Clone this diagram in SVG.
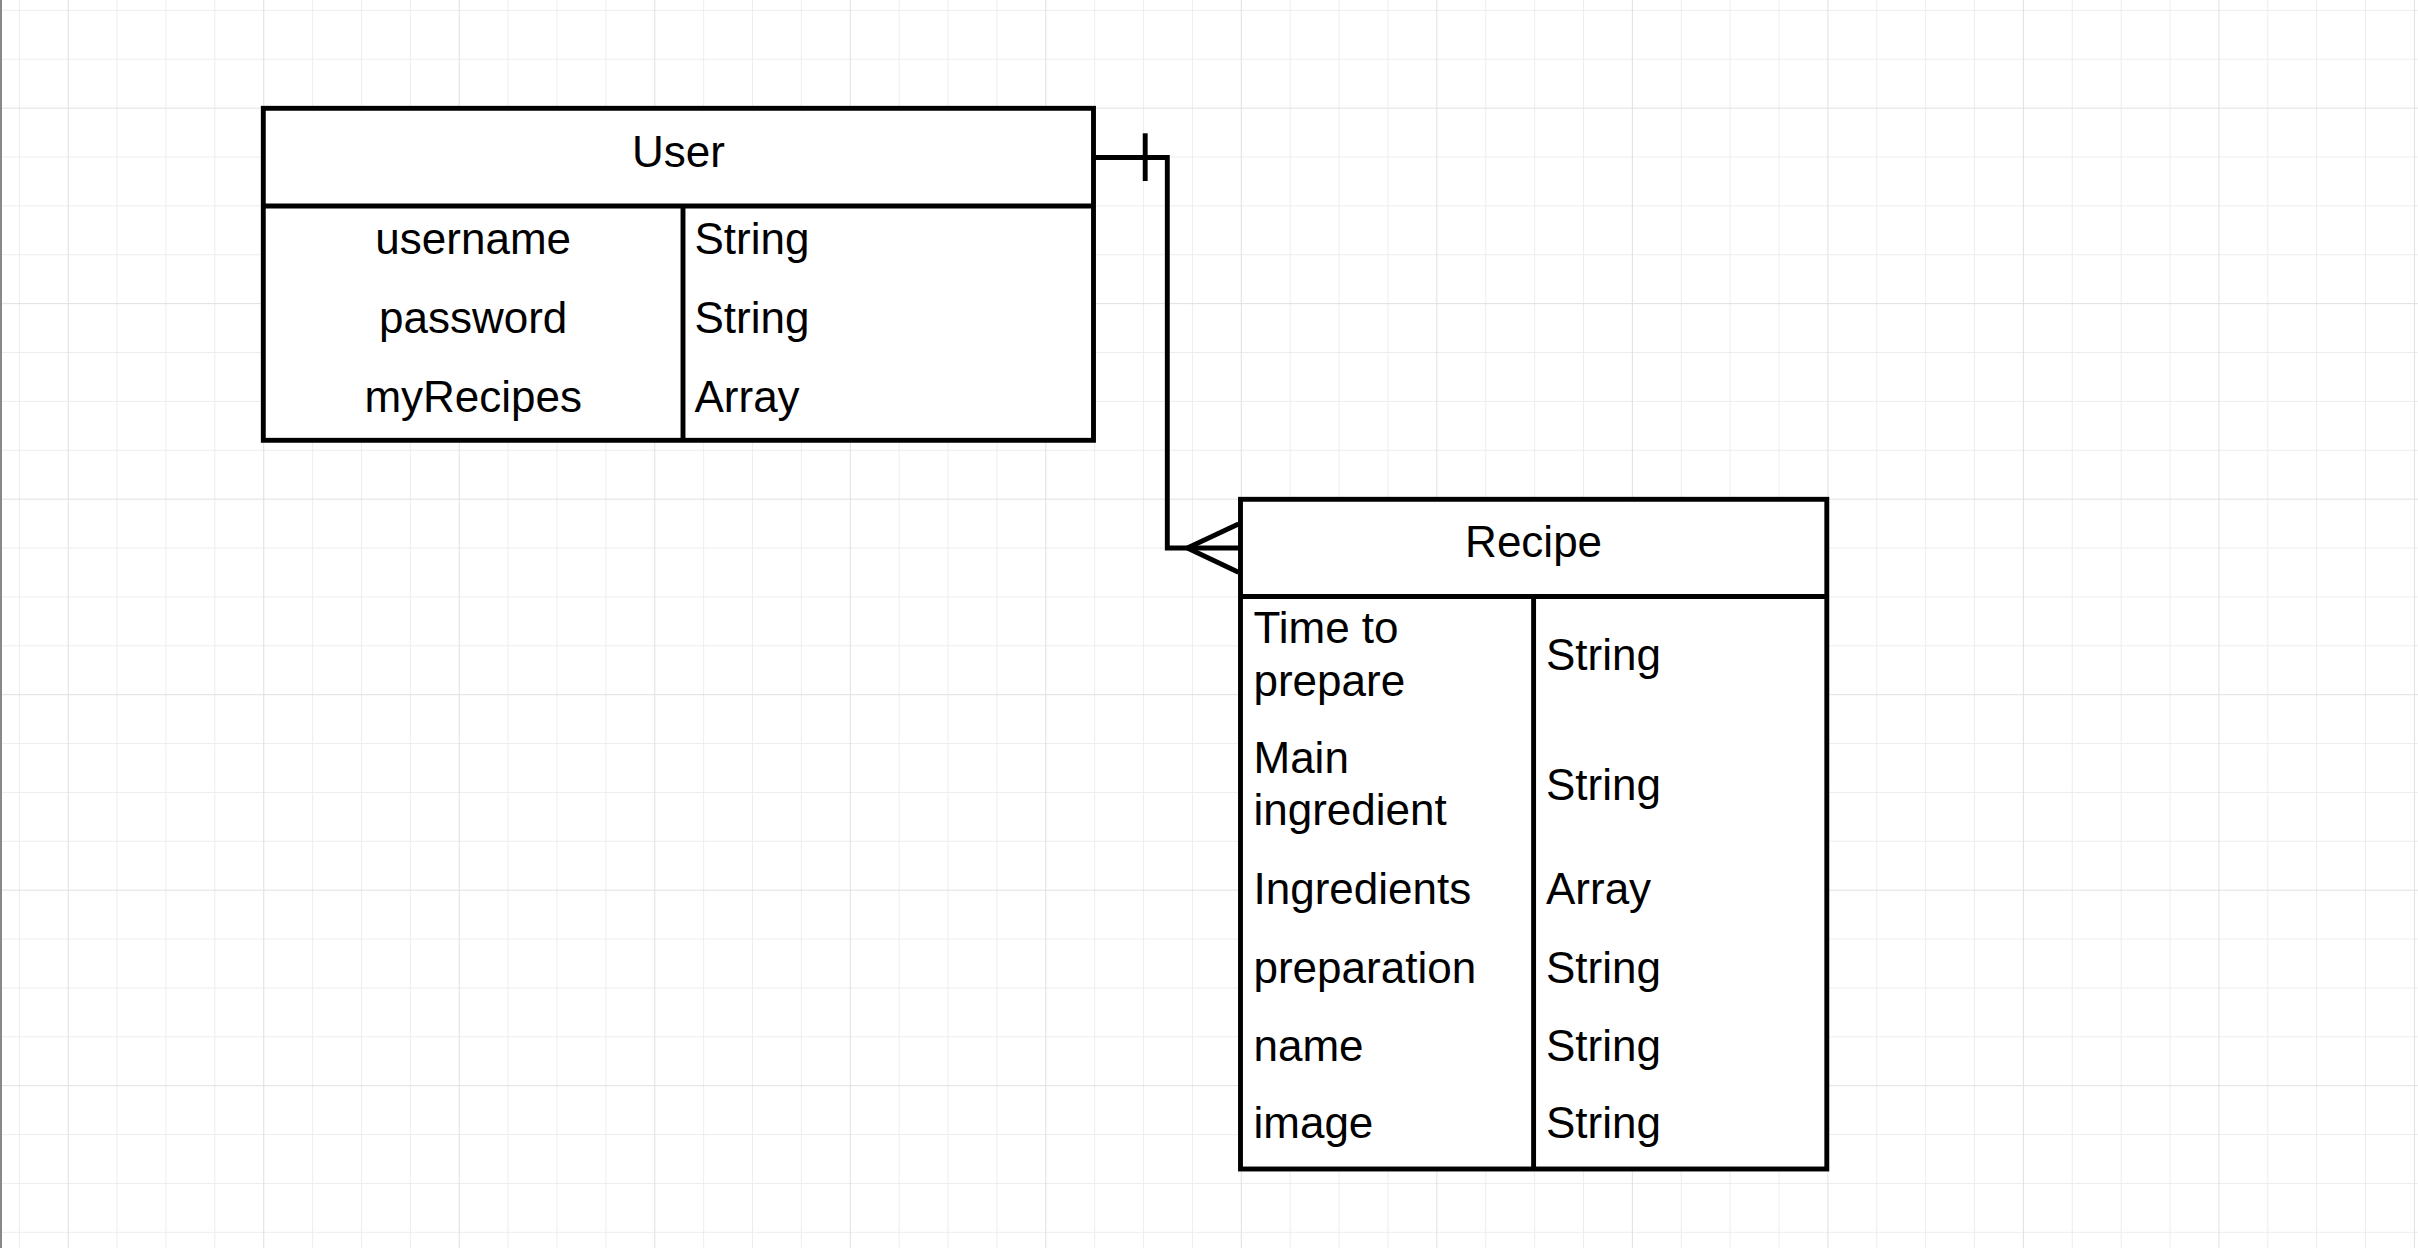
<svg xmlns="http://www.w3.org/2000/svg" width="2418" height="1248" viewBox="0 0 2418 1248">
  <style>
    .box { fill: #ffffff; stroke: #000000; stroke-width: 4.9; }
    .ln { fill: none; stroke: #000000; stroke-width: 4.9; }
    .t { font-family: "Liberation Sans", Arial, sans-serif; font-size: 44px; fill: #000000; }
    .c { text-anchor: middle; }
    .minor { fill: #ededed; }
    .major { fill: #e0e0e0; }
  </style>
  <defs>
    <pattern id="grid" patternUnits="userSpaceOnUse" x="67.7" y="107.6" width="195.52" height="195.52">
      <rect class="minor" x="48.88" y="0" width="1" height="195.52"/>
      <rect class="minor" x="97.76" y="0" width="1" height="195.52"/>
      <rect class="minor" x="146.64" y="0" width="1" height="195.52"/>
      <rect class="minor" x="0" y="48.88" width="195.52" height="1"/>
      <rect class="minor" x="0" y="97.76" width="195.52" height="1"/>
      <rect class="minor" x="0" y="146.64" width="195.52" height="1"/>
      <rect class="major" x="0" y="0" width="1" height="195.52"/>
      <rect class="major" x="0" y="0" width="195.52" height="1"/>
    </pattern>
  </defs>
  <rect x="0" y="0" width="2418" height="1248" fill="#ffffff"/>
  <rect x="0" y="0" width="2418" height="1248" fill="url(#grid)"/>
  <rect x="0" y="0" width="2" height="1248" fill="#888888"/>

  <g id="connectors">
    <path class="ln" d="M1093.5,157.5 H1167.3 V548 H1240.5"/>
    <path class="ln" d="M1145.2,133.3 V181"/>
    <path class="ln" d="M1238.5,524 L1187.3,548 L1238.5,572.3"/>
  </g>

  <g id="user">
    <rect class="box" x="263.3" y="108.3" width="830.2" height="332"/>
    <path class="ln" d="M263.3,206 H1093.5 M683,206 V440.3"/>
    <text class="t c" x="678.4" y="166.7">User</text>
    <text class="t c" x="473.2" y="254">username</text>
    <text class="t c" x="473.2" y="333.3">password</text>
    <text class="t c" x="473.2" y="411.7">myRecipes</text>
    <text class="t" x="694.5" y="254">String</text>
    <text class="t" x="694.5" y="333.3">String</text>
    <text class="t" x="694.5" y="411.7">Array</text>
  </g>

  <g id="recipe">
    <rect class="box" x="1240.5" y="499.3" width="586.3" height="669.7"/>
    <path class="ln" d="M1240.5,596.5 H1826.8 M1533.6,596.5 V1169"/>
    <text class="t c" x="1533.6" y="556.7">Recipe</text>
    <text class="t" x="1253.5" y="643.3">Time to</text>
    <text class="t" x="1253.5" y="695.7">prepare</text>
    <text class="t" x="1253.5" y="773.3">Main</text>
    <text class="t" x="1253.5" y="825">ingredient</text>
    <text class="t" x="1253.5" y="904">Ingredients</text>
    <text class="t" x="1253.5" y="982.7">preparation</text>
    <text class="t" x="1253.5" y="1060.7">name</text>
    <text class="t" x="1253.5" y="1138.3">image</text>
    <text class="t" x="1546" y="670">String</text>
    <text class="t" x="1546" y="800">String</text>
    <text class="t" x="1546" y="904">Array</text>
    <text class="t" x="1546" y="982.7">String</text>
    <text class="t" x="1546" y="1060.7">String</text>
    <text class="t" x="1546" y="1138.3">String</text>
  </g>
</svg>
